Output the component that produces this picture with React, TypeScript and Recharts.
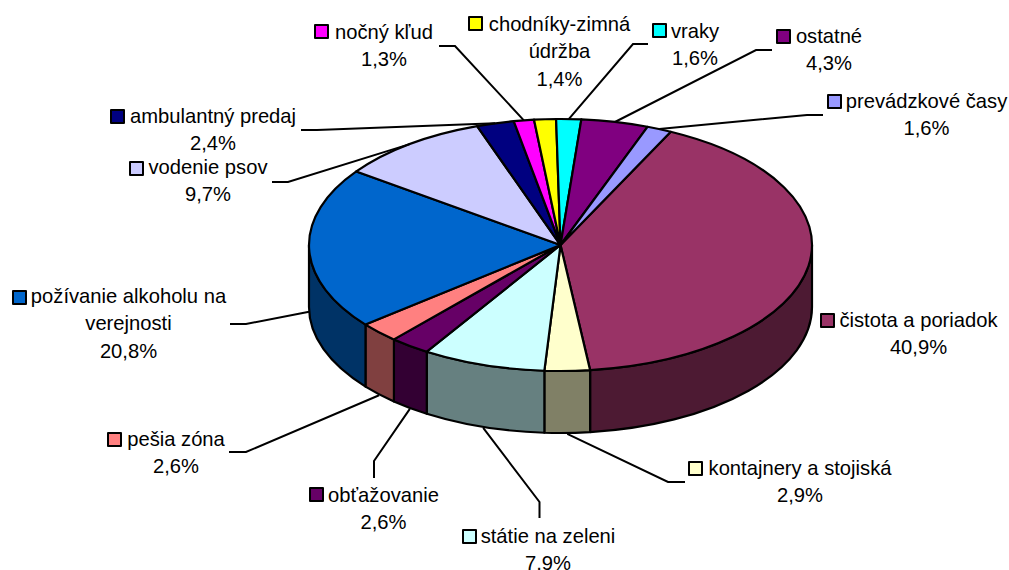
import React from 'react';
import { PieChart, Pie, Cell } from 'recharts';

// slice order is clockwise, starting at the big wine coloured one
const categories = [
  'čistota a poriadok',
  'kontajnery a stojiská',
  'státie na zeleni',
  'obťažovanie',
  'pešia zóna',
  'požívanie alkoholu na verejnosti',
  'vodenie psov',
  'ambulantný predaj',
  'nočný kľud',
  'chodníky-zimná údržba',
  'vraky',
  'ostatné',
  'prevádzkové časy',
];
const shares = [40.9, 2.9, 7.9, 2.6, 2.6, 20.8, 9.7, 2.4, 1.3, 1.4, 1.6, 4.3, 1.6];
const colors = [
  '#993366', '#FFFFCC', '#CCFFFF', '#660066', '#FF8080', '#0066CC', '#CCCCFF',
  '#000080', '#FF00FF', '#FFFF00', '#00FFFF', '#800080', '#9999FF',
];

const chartData = categories.map((name, i) => ({ name, value: shares[i] }));

const WIDTH = 1009;
const HEIGHT = 570;
const CX = 560.5;
const CY = 245;
const RX = 251.5;
const RY = 126;
const DEPTH = 62;
const START = 64; // recharts degrees, the first slice starts up right
const FONT = '"Liberation Sans", Arial, sans-serif';
const FONT_SIZE = 20.2;
const LINE_GAP = 27.3;

// where each callout goes, same order as the categories
const callouts = [
  { key: [820, 313], center: 918.5, baseline: 327, lines: ['čistota a poriadok'] },
  { key: [688, 461], center: 800, baseline: 475, lines: ['kontajnery a stojiská'], leader: [[685, 482], [668, 482]] },
  { key: [462, 529], center: 548, baseline: 543, lines: ['státie na zeleni'], leader: [[539.5, 518], [539.5, 502]] },
  { key: [309, 487], center: 383.5, baseline: 502, lines: ['obťažovanie'], leader: [[374, 478], [374, 461]] },
  { key: [107, 432], center: 176, baseline: 446, lines: ['pešia zóna'], leader: [[229, 452], [246, 452]] },
  { key: [12, 290], center: 128.5, baseline: 303, lines: ['požívanie alkoholu na', 'verejnosti'], leader: [[230, 324], [246, 324]] },
  { key: [129, 161], center: 208, baseline: 174, lines: ['vodenie psov'], leader: [[272, 182], [288, 182]] },
  { key: [110, 109], center: 213, baseline: 123, lines: ['ambulantný predaj'], leader: [[301, 130], [317, 130]] },
  { key: [314, 24], center: 384, baseline: 39, lines: ['nočný kľud'], leader: [[439, 46], [455, 46]] },
  { key: [468, 16], center: 559.5, baseline: 31, lines: ['chodníky-zimná', 'údržba'] },
  { key: [652, 23], center: 695, baseline: 38, lines: ['vraky'], leader: [[648, 44], [633, 44]] },
  { key: [776, 29], center: 829, baseline: 43, lines: ['ostatné'], leader: [[772, 50], [756, 50]] },
  { key: [827, 94], center: 926.5, baseline: 108, lines: ['prevádzkové časy'], leader: [[823, 115], [807, 115]] },
];

const rad = (deg: number) => (deg * Math.PI) / 180;
const px = (deg: number) => CX + RX * Math.cos(rad(deg));
const py = (deg: number) => CY - RY * Math.sin(rad(deg));

const halve = (hex: string) => {
  const n = parseInt(hex.slice(1), 16);
  const part = (v: number) => Math.round(v / 2).toString(16).padStart(2, '0');
  return `#${part((n >> 16) & 255)}${part((n >> 8) & 255)}${part(n & 255)}`;
};

// flattened slice, the library gives the angles
const TopSlice = (props: any) => {
  const { startAngle, endAngle, fill } = props;
  const large = Math.abs(startAngle - endAngle) > 180 ? 1 : 0;
  const d = `M${CX},${CY} L${px(startAngle)},${py(startAngle)} A${RX},${RY} 0 ${large} 1 ${px(endAngle)},${py(endAngle)} Z`;
  return <path d={d} fill={fill} stroke="#000" strokeWidth={2.2} strokeLinejoin="round" />;
};

// rim of the slice, only the front half of the disc shows one
const WallSlice = (props: any) => {
  const { startAngle, endAngle, fill } = props;
  const from = Math.min(startAngle, 0);
  const to = Math.max(endAngle, -180);
  if (from <= to) return <g />;
  const d =
    `M${px(from)},${py(from)} A${RX},${RY} 0 0 1 ${px(to)},${py(to)} ` +
    `L${px(to)},${py(to) + DEPTH} A${RX},${RY} 0 0 0 ${px(from)},${py(from) + DEPTH} Z`;
  return <path d={d} fill={halve(fill)} stroke="#000" strokeWidth={2.2} strokeLinejoin="round" />;
};

const CalloutLabel = (props: any) => {
  const { index, midAngle, value } = props;
  const c: any = callouts[index];
  const front = Math.sin(rad(midAngle)) < 0;
  const tipX = px(midAngle);
  const tipY = py(midAngle) + (front ? DEPTH + 1 : 0);
  const allLines = [...c.lines, value.toFixed(1).replace('.', ',') + '%'];
  return (
    <g>
      {c.leader && (
        <polyline
          points={[...c.leader, [tipX, tipY]].map((p: number[]) => p.join(',')).join(' ')}
          fill="none"
          stroke="#000"
          strokeWidth={2}
        />
      )}
      <rect
        x={c.key[0] + 1}
        y={c.key[1] + 1}
        width={13}
        height={13}
        fill={colors[index]}
        stroke="#000"
        strokeWidth={2}
        strokeLinejoin="round"
      />
      {allLines.map((line: string, i: number) => (
        <text
          key={i}
          x={c.center}
          y={c.baseline + i * LINE_GAP}
          textAnchor="middle"
          fill="#000"
          style={{ fontFamily: FONT, fontSize: FONT_SIZE }}
        >
          {line}
        </text>
      ))}
    </g>
  );
};

export default function App() {
  return (
    <div style={{ position: 'absolute', left: 0, top: 0, width: WIDTH, height: HEIGHT, background: '#fff' }}>
      <PieChart width={WIDTH} height={HEIGHT} margin={{ top: 0, right: 0, bottom: 0, left: 0 }}>
        <Pie
          data={chartData}
          dataKey="value"
          nameKey="name"
          cx={CX}
          cy={CY}
          outerRadius={RX}
          startAngle={START}
          endAngle={START - 360}
          shape={WallSlice}
          label={false}
          labelLine={false}
          isAnimationActive={false}
        >
          {chartData.map((d, i) => (
            <Cell key={d.name} fill={colors[i]} />
          ))}
        </Pie>
        <Pie
          data={chartData}
          dataKey="value"
          nameKey="name"
          cx={CX}
          cy={CY}
          outerRadius={RX}
          startAngle={START}
          endAngle={START - 360}
          shape={TopSlice}
          label={CalloutLabel}
          labelLine={false}
          isAnimationActive={false}
        >
          {chartData.map((d, i) => (
            <Cell key={d.name} fill={colors[i]} />
          ))}
        </Pie>
      </PieChart>
    </div>
  );
}
